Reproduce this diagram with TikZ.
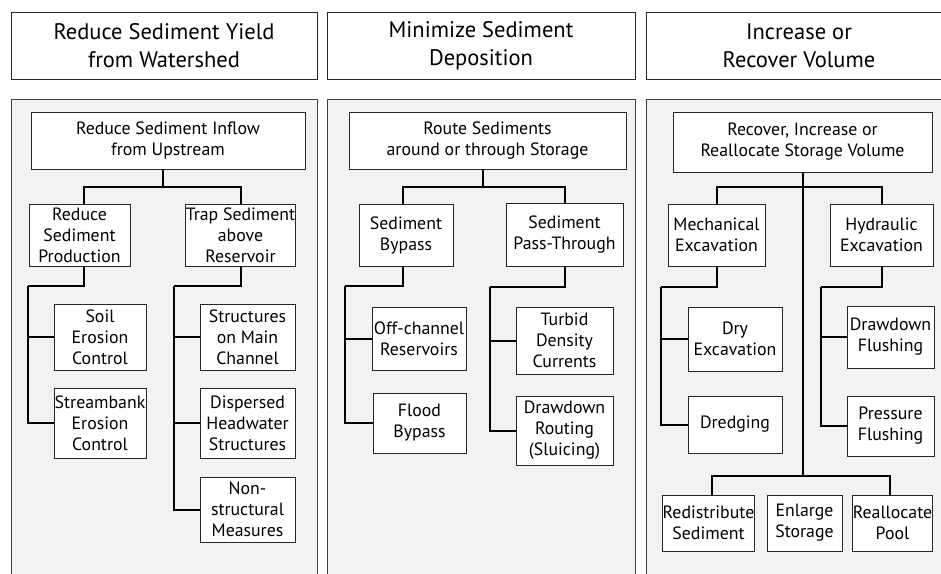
\documentclass[tikz,border=0pt]{standalone}
\usepackage{fontspec}
\setmainfont{PT Sans}
\usepackage{tikz}
\usetikzlibrary{positioning,calc}

\begin{document}
\begin{tikzpicture}[x=1pt,y=-1pt,
  hd/.style={draw=black!85,line width=0.9pt,fill=white,align=center,inner sep=0pt,
    minimum width=306,minimum height=67,font=\fontsize{22.5}{28}\selectfont},
  pn/.style={draw=black!75,line width=1pt,fill=black!5},
  bx/.style={draw=black!85,line width=0.8pt,fill=white,align=center,inner sep=0pt,
    font=\fontsize{17.8}{21}\selectfont},
  ln/.style={line width=2pt,black}
]
\useasboundingbox (0,0) rectangle (941,573);
\fill[white] (0,0) rectangle (941,573);
% ---- column headers ----
\node[hd] (hd1) at (164,45.5) {Reduce Sediment Yield\\from Watershed};
\node[hd,minimum width=308] (hd2) at (481,45.5) {Minimize Sediment\\Deposition};
\node[hd] (hd3) at (799,45.5) {Increase or\\Recover Volume};
% ---- gray panels (run off the page) ----
\draw[pn] (11,99) rectangle (317,600);
\draw[pn] (327,99) rectangle (635,600);
\draw[pn] (646,99) rectangle (960,600);
% ---- panel 1: watershed ----
\node[bx,minimum width=274,minimum height=57] (top1) at (168,140.5) {Reduce Sediment Inflow\\from Upstream};
\node[bx,minimum width=101,minimum height=62] (a1) at (79.5,235) {Reduce\\Sediment\\Production};
\node[bx,minimum width=107,minimum height=62] (b1) at (240.5,235) {Trap Sediment\\above\\Reservoir};
\node[bx,minimum width=92,minimum height=66] (c11) at (100,337) {Soil\\Erosion\\Control};
\node[bx,minimum width=92,minimum height=70] (c12) at (100,423) {Streambank\\Erosion\\Control};
\node[bx,minimum width=95,minimum height=66] (c13) at (247.5,337) {Structures\\on Main\\Channel};
\node[bx,minimum width=95,minimum height=70] (c14) at (247.5,423) {Dispersed\\Headwater\\Structures};
\node[bx,minimum width=95,minimum height=65] (c15) at (247.5,509.5) {Non-\\structural\\Measures};
\coordinate (j1) at (163,187);
\coordinate (s11) at (28,286);
\coordinate (s12) at (174,286);
\draw[ln] (top1.south -| j1) -- (j1);
\draw[ln] ([xshift=4]a1.north) |- (j1) -| (b1.north);
\draw[ln] ([xshift=4]a1.south) |- (s11);
\draw[ln] (s11) |- (c11.west);
\draw[ln] (s11) |- (c12.west);
\draw[ln] (b1.south) |- (s12);
\draw[ln] (s12) |- (c13.west);
\draw[ln] (s12) |- (c14.west);
\draw[ln] (s12) |- (c15.west);
% ---- panel 2: deposition ----
\node[bx,minimum width=277,minimum height=57] (top2) at (487.5,140.5) {Route Sediments\\around or through Storage};
\node[bx,minimum width=94,minimum height=62] (a2) at (406,235) {Sediment\\Bypass};
\node[bx,minimum width=117,minimum height=63] (b2) at (564.5,234.5) {Sediment\\Pass-Through};
\node[bx,minimum width=94,minimum height=63] (c21) at (419,338.5) {Off-channel\\Reservoirs};
\node[bx,minimum width=93,minimum height=60] (c22) at (419.5,423) {Flood\\Bypass};
\node[bx,minimum width=97,minimum height=67] (c23) at (564.5,340.5) {Turbid\\Density\\Currents};
\node[bx,minimum width=97,minimum height=69] (c24) at (564.5,430.5) {Drawdown\\Routing\\(Sluicing)};
\coordinate (j2) at (483,187);
\coordinate (s21) at (345,286);
\coordinate (s22) at (490,287);
\draw[ln] (top2.south -| j2) -- (j2);
\draw[ln] ([xshift=-3]a2.north) |- (j2) -| (b2.north);
\draw[ln] ([xshift=-3]a2.south) |- (s21);
\draw[ln] (s21) |- (c21.west);
\draw[ln] (s21) |- (c22.west);
\draw[ln] (b2.south) |- (s22);
\draw[ln] (s22) |- (c23.west);
\draw[ln] (s22) |- (c24.west);
% ---- panel 3: volume ----
\node[bx,minimum width=259,minimum height=60] (top3) at (802.5,142) {Recover, Increase or\\Reallocate Storage Volume};
\node[bx,minimum width=97,minimum height=62] (a3) at (716.5,235) {Mechanical\\Excavation};
\node[bx,minimum width=103,minimum height=62] (b3) at (881.5,235) {Hydraulic\\Excavation};
\node[bx,minimum width=94,minimum height=64] (c31) at (735,339) {Dry\\Excavation};
\node[bx,minimum width=94,minimum height=57] (c32) at (735,424.5) {Dredging};
\node[bx,minimum width=87,minimum height=62] (c33) at (890.5,337) {Drawdown\\Flushing};
\node[bx,minimum width=87,minimum height=60] (c34) at (890.5,426) {Pressure\\Flushing};
\node[bx,minimum width=91,minimum height=56] (d31) at (708.5,523) {Redistribute\\Sediment};
\node[bx,minimum width=75,minimum height=56] (d32) at (804.5,523) {Enlarge\\Storage};
\node[bx,minimum width=79,minimum height=56] (d33) at (892.5,523) {Reallocate\\Pool};
\coordinate (j3) at (803,187);
\coordinate (j4) at (803,476);
\coordinate (s31) at (661,287);
\coordinate (s32) at (821,287);
\draw[ln] (top3.south -| j3) -- (j4);
\draw[ln] (a3.north) |- (j3) -| (b3.north);
\draw[ln] (a3.south) |- (s31);
\draw[ln] (s31) |- (c31.west);
\draw[ln] (s31) |- (c32.west);
\draw[ln] (b3.south) |- (s32);
\draw[ln] (s32) |- (c33.west);
\draw[ln] (s32) |- (c34.west);
\draw[ln] ([xshift=3]d31.north) |- (j4) -| ([xshift=-3]d33.north);
\end{tikzpicture}
\end{document}
